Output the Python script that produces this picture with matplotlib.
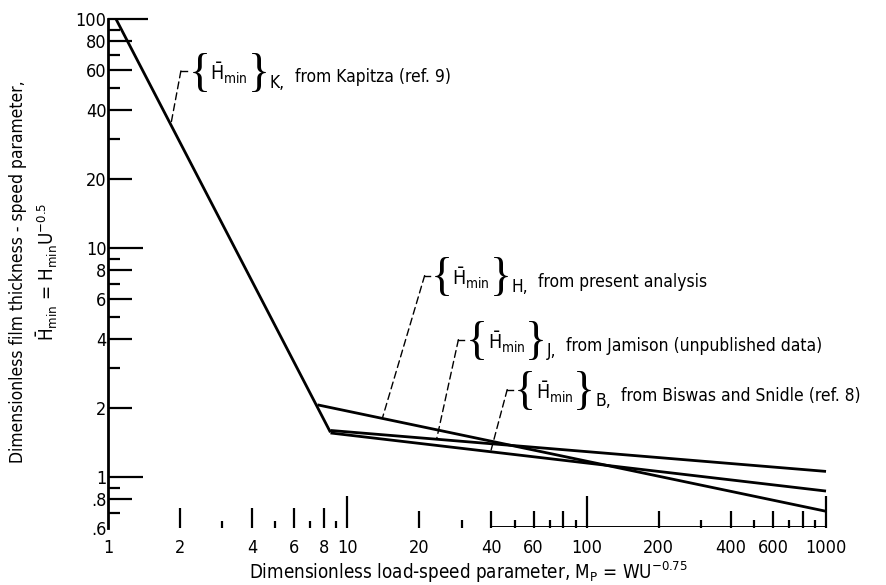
import numpy as np
import matplotlib
matplotlib.use("Agg")
import matplotlib.pyplot as plt

# ----------------------------------------------------------------------
# Data (log-log straight segments)
# ----------------------------------------------------------------------

kapitza_x = [1.08, 8.5]
kapitza_y = [100.0, 1.57]

present_x = [7.5, 1000.0]
present_y = [2.07, 0.71]

jamison_x = [8.5, 1000.0]
jamison_y = [1.60, 1.06]

biswas_x = [8.5, 1000.0]
biswas_y = [1.56, 0.87]

x_tick_vals = [1, 2, 4, 6, 8, 10, 20, 40, 60, 100, 200, 400, 600, 1000]
x_tick_labels = ["1", "2", "4", "6", "8", "10", "20", "40", "60", "100",
                 "200", "400", "600", "1000"]
y_tick_vals = [0.6, 0.8, 1, 2, 4, 6, 8, 10, 20, 40, 60, 80, 100]
y_tick_labels = [".6", ".8", "1", "2", "4", "6", "8", "10", "20", "40",
                 "60", "80", "100"]

plt.rcParams['font.family'] = ['DejaVu Sans']
plt.rcParams['font.stretch'] = 'condensed'
plt.rcParams['mathtext.fontset'] = 'dejavusans'
plt.rcParams['mathtext.default'] = 'regular'


def point_on(xs, ys, x):
    """Point on a log-log straight segment at abscissa x."""
    t = (np.log10(x) - np.log10(xs[0])) / (np.log10(xs[1]) - np.log10(xs[0]))
    ly = np.log10(ys[0]) + t * (np.log10(ys[1]) - np.log10(ys[0]))
    return x, 10 ** ly


fig = plt.figure(figsize=(8.86, 5.85), dpi=100)
ax = fig.add_axes([0.1219, 0.0974, 0.8104, 0.870])
ax.set_xscale("log")
ax.set_yscale("log")
ax.set_xlim(1, 1000)
ax.set_ylim(0.6, 100)

lw = 2.0
for xs, ys in [(kapitza_x, kapitza_y), (present_x, present_y),
               (jamison_x, jamison_y), (biswas_x, biswas_y)]:
    ax.plot(xs, ys, color="black", lw=lw, solid_capstyle="butt", clip_on=False)

# ----------------------------------------------------------------------
# Axes: hand-drawn style scales
# ----------------------------------------------------------------------

for s in ["top", "right", "bottom"]:
    ax.spines[s].set_visible(False)
ax.spines["left"].set_linewidth(2.0)

ax.set_xticks(x_tick_vals)
ax.set_xticklabels(x_tick_labels, fontsize=13)
ax.set_yticks(y_tick_vals)
ax.set_yticklabels(y_tick_labels, fontsize=13)
ax.minorticks_off()
ax.tick_params(axis="x", length=0, pad=8)
ax.tick_params(axis="y", length=0, pad=1)

# bottom scale marks (heights in pixels)
xt = []
xh = []
for dec in [1, 10, 100]:
    for m in range(2, 10):
        xt.append(m * dec)
        if dec == 1:
            xh.append(20 if m % 2 == 0 else 7)
        else:
            xh.append(17 if m % 2 == 0 else 8)
xt += [10, 100, 1000]
xh += [32, 32, 32]
ax.vlines(xt, 0, np.array(xh) / 509.0, transform=ax.get_xaxis_transform(),
          color="black", lw=1.6, clip_on=False)
ax.plot([40, 1000], [0.004, 0.004], transform=ax.get_xaxis_transform(),
        color="black", lw=0.7, clip_on=False)

# left scale marks (lengths in pixels)
yt = []
yl = []
for dec in [0.1, 1, 10]:
    for m in range(2, 10):
        v = m * dec
        if v < 0.65:
            continue
        yt.append(v)
        yl.append(24 if m % 2 == 0 else 12)
yt += [1, 10, 100]
yl += [35, 35, 40]
ax.hlines(yt, 0, np.array(yl) / 719.0, transform=ax.get_yaxis_transform(),
          color="black", lw=1.6, clip_on=False)

# ----------------------------------------------------------------------
# Labels with dashed leaders
# ----------------------------------------------------------------------

def brace_label(x0, y0, sub, txt):
    """{H_min}_sub, txt  -- built piece by piece so the braces can be tall."""
    b1 = ax.text(x0, y0, "{", transform=ax.transAxes, fontsize=33,
                 family="Liberation Serif", va="center", ha="left")
    core = ax.annotate(r"$\bar{H}_{min}$", xy=(1, 0.52), xycoords=b1,
                       xytext=(0, 0), textcoords="offset points",
                       fontsize=14, va="center", ha="left")
    b2 = ax.annotate("}", xy=(1, 0.5), xycoords=(core, b1),
                     xytext=(0, 0), textcoords="offset points",
                     fontsize=33, family="Liberation Serif",
                     va="center", ha="left")
    s = ax.annotate(sub + ",", xy=(1, 0.1), xycoords=b2,
                    xytext=(0, 0), textcoords="offset points",
                    fontsize=12.5, va="bottom", ha="left")
    ax.annotate(txt, xy=(1, 0.5), xycoords=(s, b1),
                xytext=(7, -2), textcoords="offset points",
                fontsize=12.5, va="center", ha="left")


labels = [
    (kapitza_x, kapitza_y, 1.83, "K", "from Kapitza (ref. 9)",
     (0.1015, 0.898), (0.112, 0.891)),
    (present_x, present_y, 14.0, "H", "from present analysis",
     (0.441, 0.496), (0.449, 0.489)),
    (jamison_x, jamison_y, 23.6, "J", "from Jamison (unpublished data)",
     (0.488, 0.370), (0.498, 0.364)),
    (biswas_x, biswas_y, 39.7, "B", "from Biswas and Snidle (ref. 8)",
     (0.556, 0.272), (0.565, 0.265)),
]

for xs, ys, xl, sub, txt, corner, tpos in labels:
    px, py = point_on(xs, ys, xl)
    ax.annotate("", xy=(px, py), xycoords="data", xytext=corner,
                textcoords="axes fraction",
                arrowprops=dict(arrowstyle="-", lw=1.0, linestyle=(0, (5, 3)),
                                shrinkA=0, shrinkB=0, color="black"))
    ax.plot([corner[0], corner[0] + 0.008], [corner[1], corner[1]],
            transform=ax.transAxes, color="black", lw=1.0)
    brace_label(tpos[0], tpos[1], sub, txt)

# axis titles
fig.text(0.528, 0.022,
         r"Dimensionless load-speed parameter, $M_P$ = WU$^{-0.75}$",
         ha="center", va="center", fontsize=13.5)
fig.text(0.020, 0.535, "Dimensionless film thickness - speed parameter,",
         rotation=90, ha="center", va="center", fontsize=12.5)
fig.text(0.054, 0.535, r"$\bar{H}_{min}$ = H$_{min}$U$^{-0.5}$",
         rotation=90, ha="center", va="center", fontsize=13.5)

fig.savefig("out.png", dpi=100)
